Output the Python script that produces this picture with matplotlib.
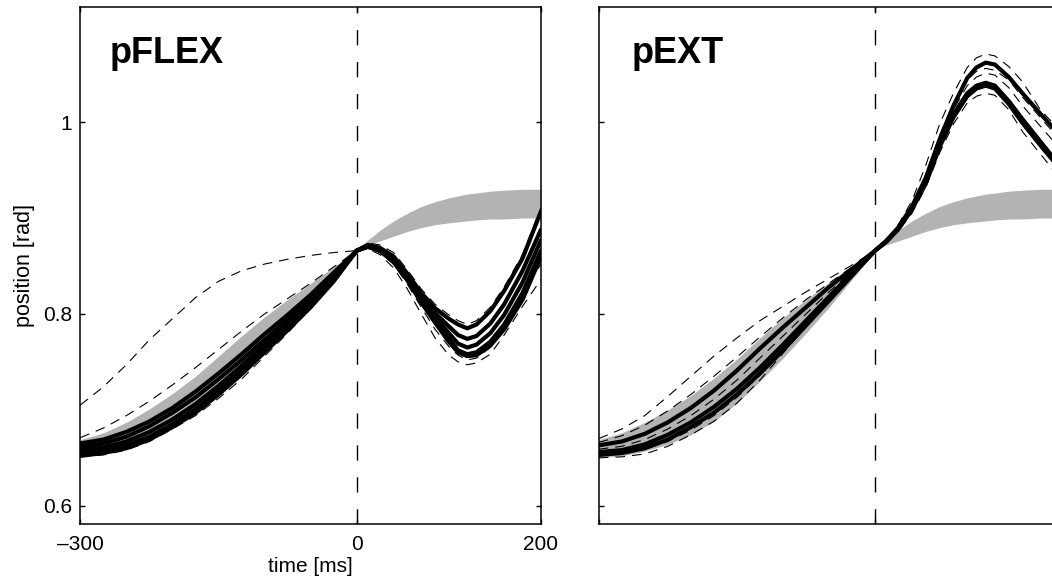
import matplotlib
matplotlib.use("Agg")
import matplotlib.pyplot as plt

plt.rcParams['font.family'] = ['Liberation Sans', 'DejaVu Sans']
plt.rcParams['lines.scale_dashes'] = False

# ---------------- data ----------------
T_PRE = [-300, -275, -250, -225, -200, -175, -150, -125, -100, -75, -50, -25, 0]
T_POST = [0, 12, 25, 40, 55, 70, 85, 100, 110, 120, 130, 145, 160, 180, 200]

X_TICKS = [-300, 0, 200]
X_TICK_LABELS = ['\u2013300', '0', '200']
Y_TICKS = [0.6, 0.8, 1.0]
Y_TICK_LABELS = ['0.6', '0.8', '1']
PANEL_TITLES = ['pFLEX', 'pEXT']
X_LABEL = 'time [ms]'
Y_LABEL = 'position [rad]'

# model (gray) band after perturbation onset, same in both panels
MODEL_POST_HI = [0.866, 0.877, 0.887, 0.897, 0.905, 0.912, 0.917, 0.921, 0.923, 0.925, 0.926, 0.928, 0.929, 0.930, 0.930]
MODEL_POST_LO = [0.866, 0.872, 0.876, 0.881, 0.886, 0.890, 0.893, 0.895, 0.896, 0.897, 0.898, 0.899, 0.899, 0.900, 0.900]

# ----- pFLEX -----
FLEX_BAND_PRE_HI = [0.669, 0.676, 0.687, 0.701, 0.717, 0.735, 0.756, 0.777, 0.797, 0.815, 0.832, 0.849, 0.866]
FLEX_BAND_PRE_LO = [0.652, 0.654, 0.660, 0.669, 0.681, 0.697, 0.716, 0.737, 0.760, 0.784, 0.810, 0.838, 0.866]

FLEX_SOLID_PRE = [
    [0.665, 0.669, 0.677, 0.688, 0.702, 0.719, 0.738, 0.758, 0.779, 0.799, 0.820, 0.843, 0.866],
    [0.661, 0.665, 0.672, 0.683, 0.697, 0.713, 0.732, 0.752, 0.773, 0.794, 0.815, 0.840, 0.866],
    [0.658, 0.661, 0.667, 0.677, 0.690, 0.706, 0.725, 0.746, 0.768, 0.790, 0.812, 0.838, 0.866],
    [0.655, 0.658, 0.663, 0.672, 0.685, 0.701, 0.720, 0.741, 0.763, 0.786, 0.809, 0.836, 0.866],
    [0.652, 0.655, 0.660, 0.669, 0.682, 0.697, 0.716, 0.737, 0.760, 0.783, 0.807, 0.834, 0.866],
]
FLEX_SOLID_POST = [
    [0.866, 0.872, 0.869, 0.860, 0.842, 0.822, 0.806, 0.795, 0.789, 0.785, 0.789, 0.803, 0.824, 0.858, 0.907],
    [0.866, 0.871, 0.868, 0.858, 0.840, 0.819, 0.801, 0.787, 0.778, 0.774, 0.777, 0.790, 0.810, 0.845, 0.888],
    [0.866, 0.871, 0.867, 0.857, 0.838, 0.816, 0.797, 0.780, 0.769, 0.765, 0.768, 0.780, 0.799, 0.833, 0.877],
    [0.866, 0.870, 0.866, 0.855, 0.836, 0.813, 0.793, 0.774, 0.762, 0.758, 0.760, 0.771, 0.789, 0.822, 0.866],
    [0.866, 0.870, 0.866, 0.854, 0.835, 0.812, 0.791, 0.771, 0.760, 0.756, 0.757, 0.767, 0.784, 0.815, 0.860],
]
FLEX_DASH_PRE = [
    [0.705, 0.724, 0.747, 0.773, 0.795, 0.817, 0.834, 0.845, 0.852, 0.857, 0.861, 0.864, 0.866],
    [0.671, 0.681, 0.694, 0.709, 0.726, 0.744, 0.763, 0.782, 0.800, 0.816, 0.832, 0.849, 0.866],
    [0.651, 0.653, 0.658, 0.667, 0.680, 0.694, 0.712, 0.732, 0.756, 0.780, 0.806, 0.834, 0.866],
    [0.654, 0.657, 0.662, 0.671, 0.684, 0.699, 0.717, 0.738, 0.761, 0.785, 0.810, 0.837, 0.866],
]
FLEX_DASH_POST = [
    [0.866, 0.874, 0.872, 0.864, 0.846, 0.826, 0.810, 0.799, 0.793, 0.789, 0.793, 0.807, 0.828, 0.862, 0.911],
    [0.866, 0.868, 0.862, 0.848, 0.826, 0.800, 0.775, 0.757, 0.750, 0.747, 0.749, 0.758, 0.778, 0.808, 0.836],
    [0.866, 0.869, 0.864, 0.852, 0.831, 0.807, 0.784, 0.766, 0.757, 0.752, 0.754, 0.765, 0.787, 0.822, 0.852],
]

# ----- pEXT -----
EXT_BAND_PRE_HI = [0.669, 0.676, 0.687, 0.700, 0.715, 0.733, 0.753, 0.775, 0.796, 0.815, 0.833, 0.850, 0.866]
EXT_BAND_PRE_LO = [0.651, 0.652, 0.657, 0.664, 0.674, 0.688, 0.707, 0.730, 0.754, 0.780, 0.807, 0.836, 0.866]

EXT_SOLID_PRE = [
    [0.663, 0.667, 0.675, 0.687, 0.702, 0.720, 0.741, 0.764, 0.786, 0.807, 0.828, 0.847, 0.866],
    [0.656, 0.658, 0.664, 0.674, 0.687, 0.703, 0.722, 0.744, 0.768, 0.793, 0.818, 0.843, 0.866],
    [0.653, 0.655, 0.660, 0.669, 0.682, 0.697, 0.716, 0.738, 0.762, 0.788, 0.814, 0.840, 0.866],
]
EXT_SOLID_POST = [
    [0.866, 0.876, 0.890, 0.912, 0.942, 0.982, 1.017, 1.046, 1.057, 1.062, 1.060, 1.047, 1.030, 1.008, 0.987],
    [0.866, 0.876, 0.889, 0.910, 0.938, 0.977, 1.008, 1.030, 1.038, 1.041, 1.038, 1.022, 1.003, 0.979, 0.955],
    [0.866, 0.875, 0.888, 0.909, 0.936, 0.974, 1.005, 1.027, 1.035, 1.038, 1.035, 1.019, 0.999, 0.975, 0.952],
]
EXT_DASH_PRE = [
    [0.670, 0.680, 0.694, 0.714, 0.735, 0.756, 0.775, 0.793, 0.808, 0.823, 0.837, 0.851, 0.866],
    [0.666, 0.673, 0.684, 0.699, 0.716, 0.735, 0.755, 0.776, 0.796, 0.815, 0.832, 0.849, 0.866],
    [0.659, 0.662, 0.669, 0.680, 0.694, 0.711, 0.731, 0.754, 0.777, 0.800, 0.823, 0.845, 0.866],
    [0.650, 0.651, 0.654, 0.662, 0.674, 0.688, 0.707, 0.731, 0.759, 0.787, 0.812, 0.840, 0.866],
    [0.653, 0.655, 0.659, 0.667, 0.679, 0.694, 0.713, 0.736, 0.763, 0.790, 0.815, 0.842, 0.866],
]
EXT_DASH_POST = [
    [0.866, 0.877, 0.893, 0.918, 0.955, 0.998, 1.030, 1.057, 1.067, 1.071, 1.069, 1.058, 1.042, 1.012, 0.992],
    [0.866, 0.876, 0.891, 0.914, 0.945, 0.986, 1.020, 1.044, 1.053, 1.056, 1.054, 1.044, 1.026, 1.004, 0.982],
    [0.866, 0.876, 0.890, 0.911, 0.940, 0.980, 1.013, 1.038, 1.047, 1.051, 1.049, 1.036, 1.017, 0.995, 0.973],
    [0.866, 0.875, 0.886, 0.905, 0.932, 0.968, 0.998, 1.020, 1.027, 1.030, 1.028, 1.013, 0.990, 0.966, 0.942],
]

PANELS = [
    dict(band_hi=FLEX_BAND_PRE_HI, band_lo=FLEX_BAND_PRE_LO,
         solid_pre=FLEX_SOLID_PRE, solid_post=FLEX_SOLID_POST,
         dash_pre=FLEX_DASH_PRE, dash_post=FLEX_DASH_POST),
    dict(band_hi=EXT_BAND_PRE_HI, band_lo=EXT_BAND_PRE_LO,
         solid_pre=EXT_SOLID_PRE, solid_post=EXT_SOLID_POST,
         dash_pre=EXT_DASH_PRE, dash_post=EXT_DASH_POST),
]

# ---------------- figure ----------------
W, H = 1052, 577
fig = plt.figure(figsize=(W / 100, H / 100), dpi=100)

ax_w = 460.7 / W
ax_h = 517 / H
ax_b = (H - 524) / H
lefts = [80.3 / W, 598.7 / W]
GRAY = '#b3b3b3'

for i, (p, left) in enumerate(zip(PANELS, lefts)):
    ax = fig.add_axes([left, ax_b, ax_w, ax_h])
    ax.fill_between(T_PRE, p['band_lo'], p['band_hi'], color=GRAY, lw=0, zorder=1)
    ax.fill_between(T_POST, MODEL_POST_LO, MODEL_POST_HI, color=GRAY, lw=0, zorder=1)
    for d in p['dash_pre']:
        ax.plot(T_PRE, d, color='k', lw=0.8, dashes=(7, 5), zorder=2)
    for d in p['dash_post']:
        ax.plot(T_POST, d, color='k', lw=0.8, dashes=(7, 5), zorder=2)
    for a, b in zip(p['solid_pre'], p['solid_post']):
        ax.plot(T_PRE + T_POST[1:], a + b[1:], color='k', lw=3.0,
                solid_joinstyle='round', solid_capstyle='round', zorder=3)
    ax.axvline(0, color='k', lw=1.0, dashes=(11, 12), zorder=4)

    ax.set_xlim(-300, 200)
    ax.set_ylim(0.581, 1.120)
    ax.set_xticks(X_TICKS)
    ax.set_yticks(Y_TICKS)
    ax.tick_params(direction='in', top=True, right=True, length=3.6,
                   width=1.0, labelsize=15, pad=8)
    for s in ax.spines.values():
        s.set_linewidth(1.1)
    if i == 0:
        ax.set_xticklabels(X_TICK_LABELS)
        ax.set_yticklabels(Y_TICK_LABELS)
        ax.tick_params(axis='y', pad=6)
        ax.set_xlabel(X_LABEL, fontsize=15, labelpad=2)
        ax.set_ylabel(Y_LABEL, fontsize=15.5)
        ax.yaxis.set_label_coords(-0.099, 0.5)
    else:
        ax.set_xticklabels([])
        ax.set_yticklabels([])
    ax.text(0.063 if i == 0 else 0.071, 0.892, PANEL_TITLES[i], transform=ax.transAxes,
            fontsize=26, fontweight='bold', va='baseline', ha='left')

fig.savefig('out.png', dpi=100)
